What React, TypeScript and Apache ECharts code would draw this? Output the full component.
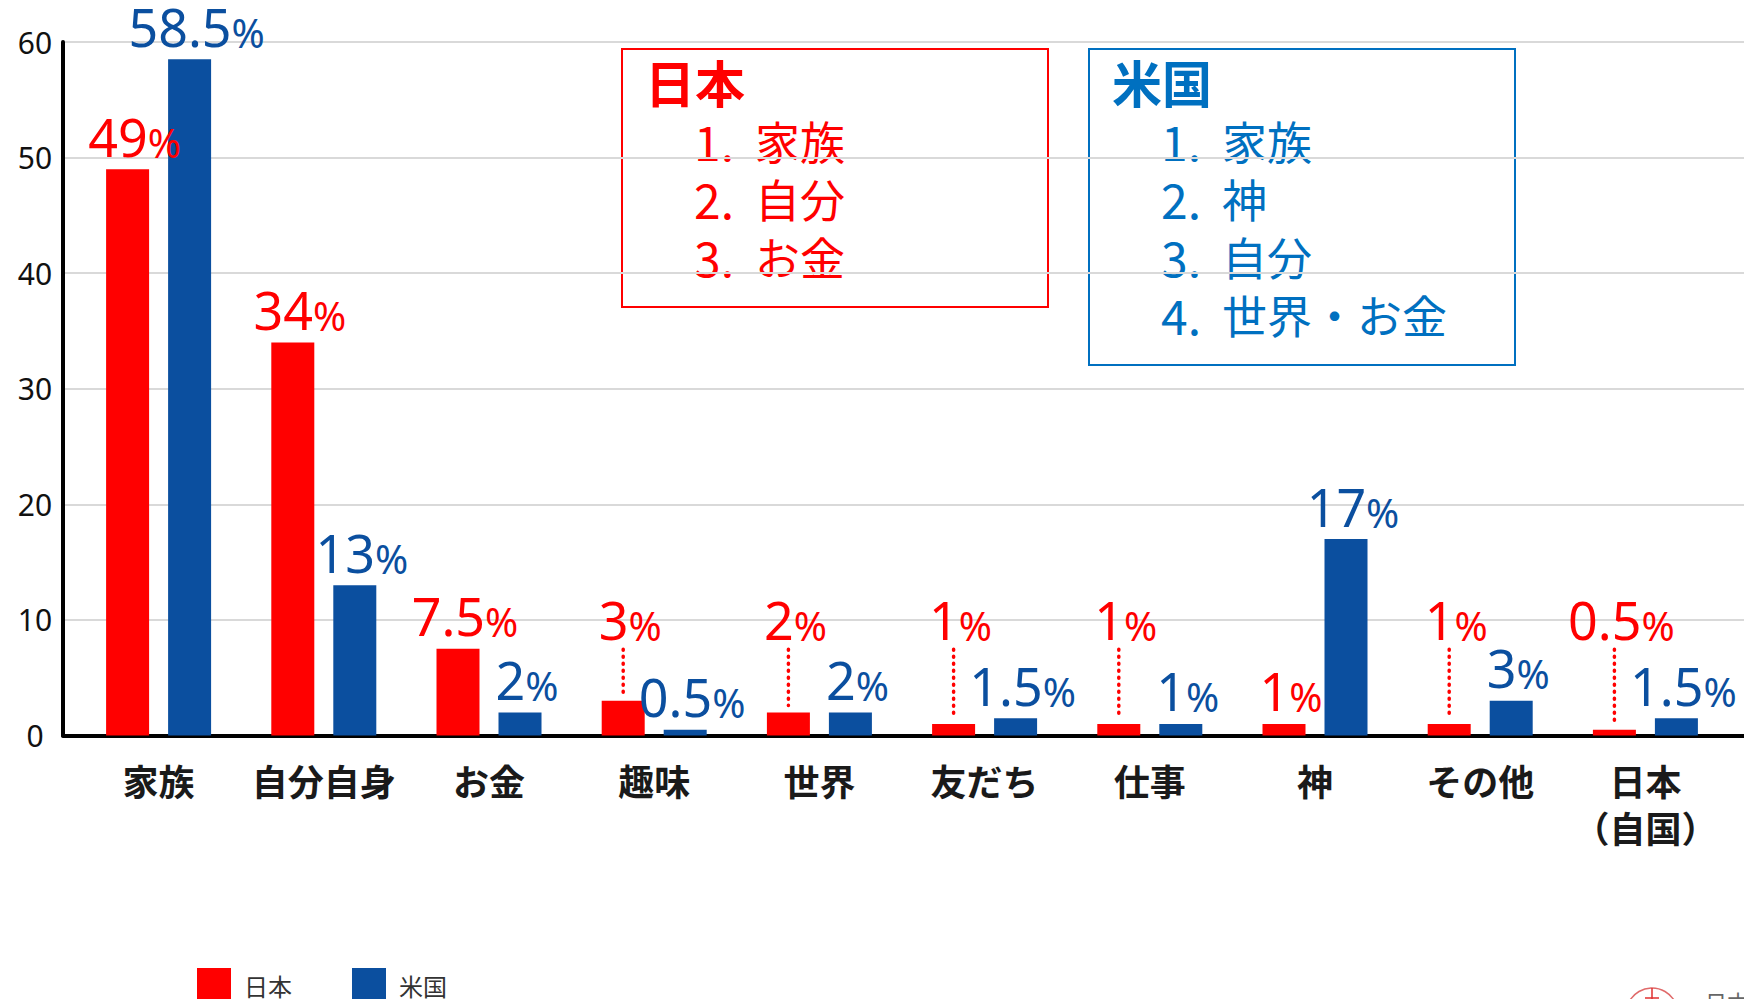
import React, { useEffect, useRef } from 'react';
import * as echarts from 'echarts';

// ---------- data ----------
const categories = ['家族', '自分自身', 'お金', '趣味', '世界', '友だち', '仕事', '神', 'その他', '日本\n（自国）'];
const japanValues = [49, 34, 7.5, 3, 2, 1, 1, 1, 1, 0.5];
const usValues = [58.5, 13, 2, 0.5, 2, 1.5, 1, 17, 3, 1.5];
// Japan labels lifted above the bar with a dotted leader line
const japanRaisedLabel = [false, false, false, true, true, true, true, false, true, true];
const seriesNames = ['日本', '米国'];
const yMin = 0;
const yMax = 60;
const yInterval = 10;
const jpRankTitle = '日本';
const jpRanks = ['家族', '自分', 'お金'];
const usRankTitle = '米国';
const usRanks = ['家族', '神', '自分', '世界・お金'];
const logoText = '日本';

// ---------- styles ----------
const RED = '#ff0000';
const BLUE = '#0b4f9f';
const BOX_BLUE = '#0070c0';
const CJK = '"Noto Sans CJK JP", "Noto Sans", sans-serif';
const NUM = '"Noto Sans", "Noto Sans CJK JP", sans-serif';
const BAR_W = 43;
const BAR_GAP_PX = 19;
const RAISED_LEVEL = 7.8;
const ROW_H = 58;
const LABEL_DX = 7;

const rich = (color: string) => ({
  n: { fontFamily: NUM, fontSize: 52, color, fill: color, lineHeight: 52 },
  p: { fontFamily: NUM, fontSize: 40, color, fill: color, lineHeight: 40, verticalAlign: 'bottom' },
});
const fmt = (v: number) => `{n|${v}}{p|%}`;

function rankBox(x: number, y: number, w: number, h: number, color: string, title: string, items: string[]) {
  return [
    { type: 'rect', shape: { x, y, width: w, height: h }, style: { fill: 'none', stroke: color, lineWidth: 2 } },
    {
      type: 'text', x: x + 23, y: y + 32,
      style: { text: title, fontFamily: CJK, fontSize: 50, fontWeight: 'bold', fill: color, align: 'left', verticalAlign: 'middle' },
    },
    {
      type: 'text', x: x + 72, y: y + 62,
      style: {
        text: items.map((_, i) => `${i + 1}.`).join('\n'), fontFamily: CJK, fontSize: 48, lineHeight: ROW_H,
        fill: color, align: 'left', verticalAlign: 'top',
      },
    },
    {
      type: 'text', x: x + 133, y: y + 62,
      style: {
        text: items.join('\n'), fontFamily: CJK, fontSize: 45, lineHeight: ROW_H,
        fill: color, align: 'left', verticalAlign: 'top',
      },
    },
  ];
}

export default function App() {
  const ref = useRef<HTMLDivElement>(null);

  useEffect(() => {
    document.body.style.margin = '0';
    if (!ref.current) return;
    const chart = echarts.init(ref.current, undefined, { renderer: 'svg' });

    const raisedData = japanValues
      .map((v, i) => (japanRaisedLabel[i] ? [i, v] : null))
      .filter((d) => d !== null);

    const graphics: any[] = [
      ...rankBox(622, 49, 426, 258, RED, jpRankTitle, jpRanks),
      ...rankBox(1089, 49, 426, 316, BOX_BLUE, usRankTitle, usRanks),
      // partial logo bottom-right
      { type: 'circle', shape: { cx: 1652, cy: 1014, r: 26 }, style: { fill: 'none', stroke: '#e06a6a', lineWidth: 1.5 } },
      { type: 'line', shape: { x1: 1652, y1: 988, x2: 1652, y2: 1000 }, style: { stroke: '#e03030', lineWidth: 1.5 } },
      { type: 'line', shape: { x1: 1645, y1: 998, x2: 1659, y2: 998 }, style: { stroke: '#e03030', lineWidth: 1.5 } },
      { type: 'text', x: 1705, y: 990, style: { text: logoText, fontFamily: CJK, fontSize: 22, fill: '#666', align: 'left', verticalAlign: 'top' } },
    ];

    chart.setOption({
      animation: false,
      backgroundColor: '#ffffff',
      textStyle: { fontFamily: CJK },
      grid: [
        { left: 63, right: 0, top: 42, bottom: 263.5 },
        { left: 76, right: 16, top: 42, bottom: 263.5 },
      ],
      legend: {
        data: seriesNames,
        left: 197,
        top: 968,
        padding: 0,
        itemWidth: 34,
        itemHeight: 34,
        itemGap: 60,
        icon: 'rect',
        textStyle: { fontFamily: CJK, fontSize: 24, color: '#333', padding: [0, 0, 0, 8] },
      },
      xAxis: [
        {
          type: 'category', gridIndex: 0, data: categories,
          axisLine: { show: true, lineStyle: { color: '#000', width: 4 } },
          axisTick: { show: false }, axisLabel: { show: false }, splitLine: { show: false },
        },
        {
          type: 'category', gridIndex: 1, data: categories,
          axisLine: { show: false }, axisTick: { show: false },
          axisLabel: { fontFamily: CJK, fontSize: 36, fontWeight: 'bold', color: '#1a1a1a', lineHeight: 47, margin: 21, interval: 0 },
        },
      ],
      yAxis: [
        {
          type: 'value', gridIndex: 0, min: yMin, max: yMax, interval: yInterval,
          axisLine: { show: true, lineStyle: { color: '#000', width: 4 } },
          axisTick: { show: false },
          axisLabel: { fontFamily: NUM, fontSize: 30, color: '#111', align: 'center', margin: 28 },
          splitLine: { show: true, lineStyle: { color: '#d9d9d9', width: 2 } },
        },
        {
          type: 'value', gridIndex: 1, min: yMin, max: yMax, interval: yInterval, show: false,
          splitLine: { show: false },
        },
      ],
      series: [
        {
          name: seriesNames[0], type: 'bar', xAxisIndex: 1, yAxisIndex: 1,
          barWidth: BAR_W, barGap: `${(BAR_GAP_PX / BAR_W) * 100}%`,
          itemStyle: { color: RED },
          label: { show: true, position: 'top', distance: 7, offset: [LABEL_DX, 0], formatter: (p: any) => fmt(p.value), rich: rich(RED) },
          data: japanValues.map((v, i) => ({ value: v, label: { show: !japanRaisedLabel[i] } })),
          z: 3,
        },
        {
          name: seriesNames[1], type: 'bar', xAxisIndex: 1, yAxisIndex: 1,
          barWidth: BAR_W,
          itemStyle: { color: BLUE },
          label: { show: true, position: 'top', distance: 7, offset: [LABEL_DX, 0], formatter: (p: any) => fmt(p.value), rich: rich(BLUE) },
          data: usValues,
          z: 3,
        },
        {
          type: 'custom', xAxisIndex: 1, yAxisIndex: 1, z: 5, silent: true,
          data: raisedData,
          renderItem: (params: any, api: any) => {
            const idx = api.value(0);
            const v = api.value(1);
            const top = api.coord([idx, RAISED_LEVEL]);
            const bar = api.coord([idx, v]);
            const x = bar[0] - (BAR_W + BAR_GAP_PX) / 2;
            return {
              type: 'group',
              children: [
                {
                  type: 'line',
                  shape: { x1: x, y1: top[1] + 4, x2: x, y2: bar[1] - 7 },
                  style: { stroke: RED, lineWidth: 3.5, lineDash: [1, 6], lineCap: 'round' },
                },
                {
                  type: 'text',
                  style: { text: fmt(v), rich: rich(RED), fill: RED, x: x + LABEL_DX, y: top[1], align: 'center', verticalAlign: 'bottom' },
                },
              ],
            };
          },
        },
      ],
      graphic: graphics,
    });

    return () => chart.dispose();
  }, []);

  return <div ref={ref} style={{ width: 1744, height: 999 }} />;
}
